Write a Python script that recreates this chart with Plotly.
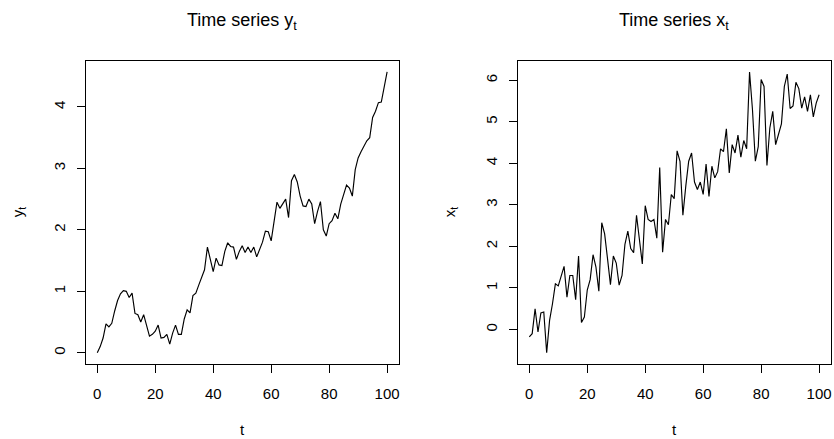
import plotly.graph_objects as go

t = list(range(101))

y_t = [0.00, 0.10, 0.24, 0.47, 0.42, 0.48, 0.68, 0.85, 0.96, 1.01,
       1.00, 0.90, 0.97, 0.64, 0.62, 0.50, 0.62, 0.45, 0.27, 0.30,
       0.35, 0.45, 0.24, 0.25, 0.30, 0.14, 0.32, 0.45, 0.30, 0.30,
       0.55, 0.70, 0.65, 0.93, 0.97, 1.10, 1.22, 1.35, 1.72, 1.50,
       1.32, 1.54, 1.43, 1.42, 1.65, 1.79, 1.73, 1.72, 1.52, 1.65,
       1.74, 1.63, 1.72, 1.63, 1.72, 1.56, 1.68, 1.80, 1.98, 1.97,
       1.82, 2.10, 2.45, 2.35, 2.42, 2.50, 2.20, 2.80, 2.90, 2.78,
       2.55, 2.39, 2.38, 2.50, 2.42, 2.10, 2.30, 2.46, 2.00, 1.90,
       2.10, 2.15, 2.27, 2.18, 2.42, 2.58, 2.73, 2.68, 2.55, 2.98,
       3.17, 3.27, 3.37, 3.45, 3.50, 3.83, 3.93, 4.07, 4.08, 4.35,
       4.57]

x_t = [-0.18, -0.10, 0.50, -0.06, 0.40, 0.42, -0.56, 0.22, 0.62, 1.10,
       1.05, 1.28, 1.52, 0.78, 1.30, 1.30, 0.72, 1.77, 0.17, 0.30,
       0.95, 1.20, 1.80, 1.50, 0.92, 2.57, 2.30, 1.70, 1.08, 1.77,
       1.60, 1.07, 1.30, 2.05, 2.37, 1.95, 1.85, 2.75, 2.10, 1.58,
       2.98, 2.65, 2.60, 2.65, 2.20, 3.90, 1.86, 2.65, 2.52, 3.25,
       3.15, 4.30, 4.05, 2.75, 3.45, 4.05, 4.25, 3.55, 3.37, 3.55,
       3.25, 3.98, 3.20, 3.93, 3.65, 3.80, 4.35, 4.28, 4.83, 3.77,
       4.45, 4.25, 4.68, 4.15, 4.55, 4.35, 6.20, 5.30, 4.05, 4.40,
       6.02, 5.85, 3.95, 4.85, 5.25, 4.45, 4.70, 4.95, 5.85, 6.15,
       5.32, 5.38, 5.95, 5.80, 5.33, 5.60, 5.25, 5.65, 5.12, 5.45,
       5.65]

x_ticks = [0, 20, 40, 60, 80, 100]
y_ticks_left = [0, 1, 2, 3, 4]
y_ticks_right = [0, 1, 2, 3, 4, 5, 6]


def r_range(vals):
    lo, hi = min(vals), max(vals)
    pad = 0.04 * (hi - lo)
    return [lo - pad, hi + pad]


W, H = 834, 439
FONT = "Liberation Sans, Arial, sans-serif"

fig = go.Figure()
fig.add_trace(go.Scatter(x=t, y=y_t, mode="lines", line=dict(color="black", width=1.15),
                         xaxis="x", yaxis="y", showlegend=False))
fig.add_trace(go.Scatter(x=t, y=x_t, mode="lines", line=dict(color="black", width=1.15),
                         xaxis="x2", yaxis="y2", showlegend=False))

box_top, box_bot = 60.7, 364.0
left_l, left_r = 85.7, 398.7
right_l, right_r = 517.7, 830.7
ydom = [1 - box_bot / H, 1 - box_top / H]

axis_common = dict(showline=True, mirror=True, linecolor="black", linewidth=1,
                   ticks="outside", ticklen=8, tickwidth=1, tickcolor="black",
                   showgrid=False, zeroline=False,
                   tickfont=dict(family=FONT, size=15, color="black"))

fig.update_layout(
    width=W, height=H,
    margin=dict(l=0, r=0, t=0, b=0),
    paper_bgcolor="white", plot_bgcolor="white",
    xaxis=dict(domain=[left_l / W, left_r / W], range=r_range(t), tickvals=x_ticks,
               anchor="y", ticklabelstandoff=8, **axis_common),
    yaxis=dict(domain=ydom, range=r_range(y_t), tickvals=y_ticks_left, anchor="x",
               tickangle=-90, ticklabelstandoff=6, **axis_common),
    xaxis2=dict(domain=[right_l / W, right_r / W], range=r_range(t), tickvals=x_ticks,
                anchor="y2", ticklabelstandoff=8, **axis_common),
    yaxis2=dict(domain=ydom, range=r_range(x_t), tickvals=y_ticks_right, anchor="x2",
                tickangle=-90, ticklabelstandoff=6, **axis_common),
)

ann = []
for (l, r, title, ylab) in [(left_l, left_r, "Time series y<sub>t</sub>", "y<sub>t</sub>"),
                            (right_l, right_r, "Time series x<sub>t</sub>", "x<sub>t</sub>")]:
    cx = (l + r) / 2
    ann.append(dict(text=title, x=cx / W, y=1 - 22 / H, xref="paper", yref="paper",
                    xanchor="center", yanchor="middle", showarrow=False,
                    font=dict(family=FONT, size=18, color="black")))
    ann.append(dict(text="t", x=cx / W, y=1 - 429 / H, xref="paper", yref="paper",
                    xanchor="center", yanchor="middle", showarrow=False,
                    font=dict(family=FONT, size=15, color="black")))
    ann.append(dict(text=ylab, x=(l - 67.7) / W, y=1 - (box_top + box_bot) / 2 / H,
                    xref="paper", yref="paper", xanchor="center", yanchor="middle",
                    showarrow=False, textangle=-90,
                    font=dict(family=FONT, size=15, color="black")))
fig.update_layout(annotations=ann)

fig.write_html("out.html")
